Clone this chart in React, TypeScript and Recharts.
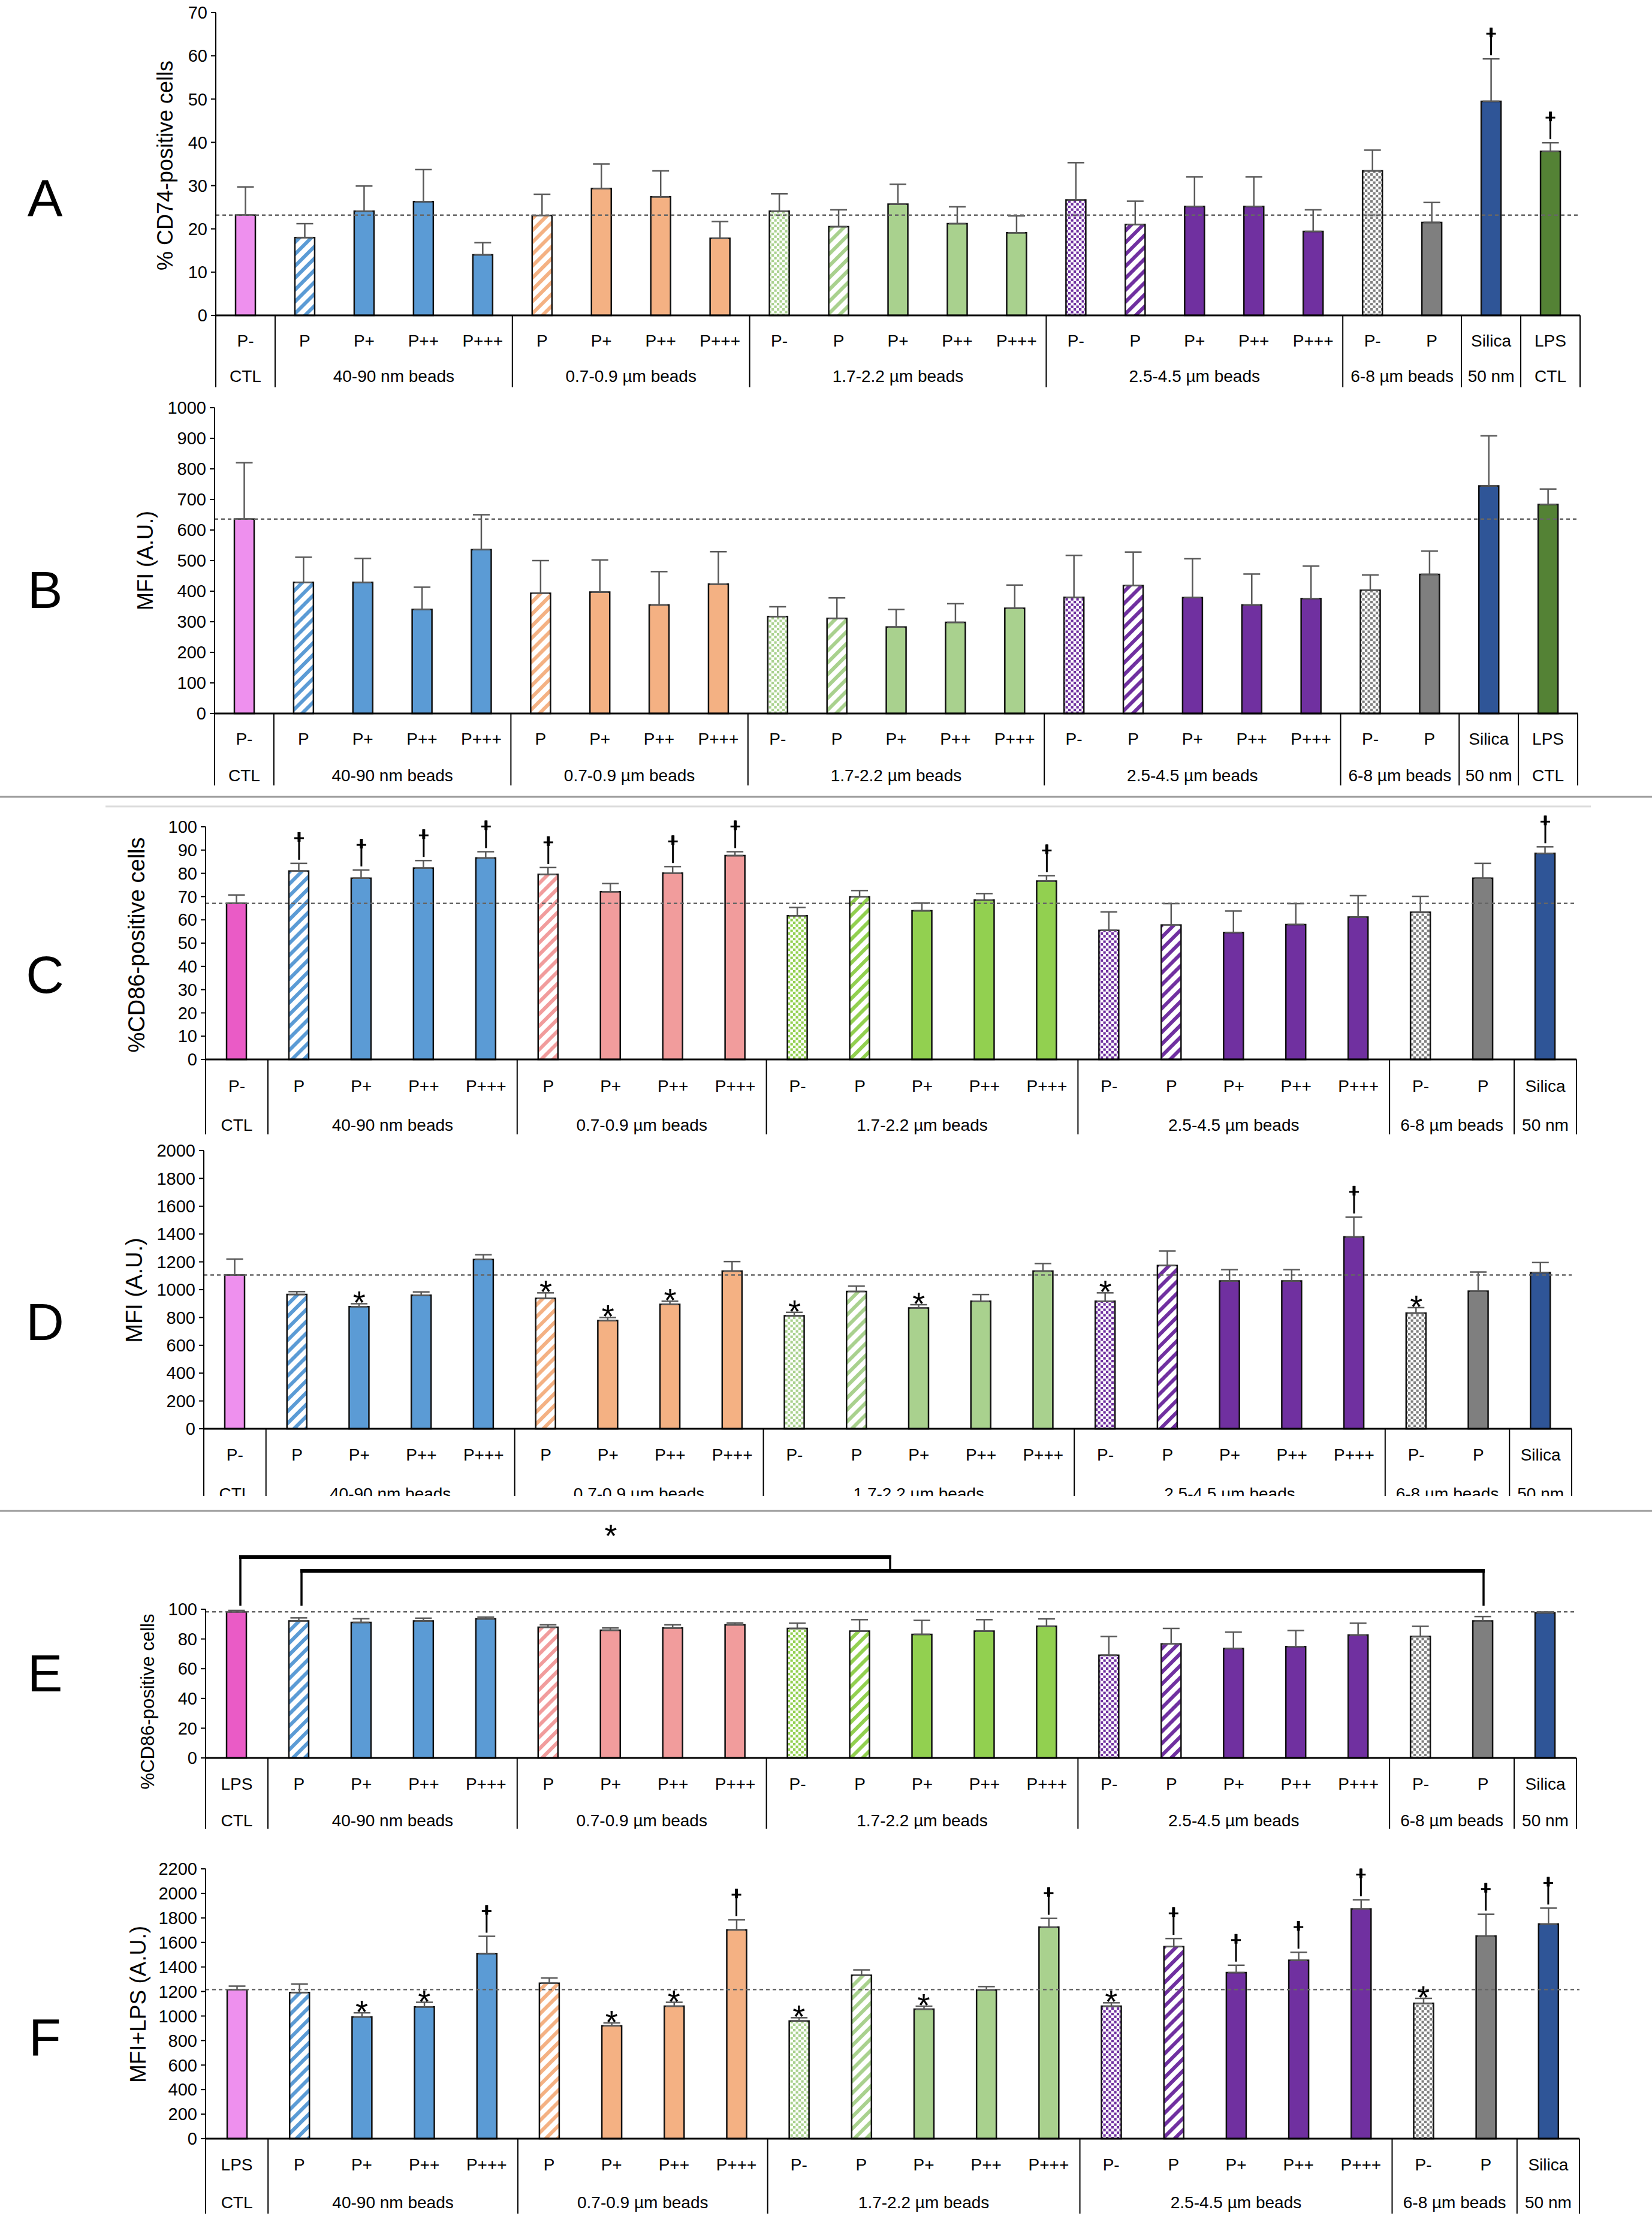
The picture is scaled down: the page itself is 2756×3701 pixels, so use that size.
import React from "react";
import { ComposedChart, Bar, Cell, ErrorBar, Line, XAxis, YAxis, ReferenceLine } from "recharts";

const PAGE_W = 2756;
const PAGE_H = 3701;

// ---- categories ----
const ticksAB = ["P-", "P", "P+", "P++", "P+++", "P", "P+", "P++", "P+++", "P-", "P", "P+", "P++", "P+++", "P-", "P", "P+", "P++", "P+++", "P-", "P", "Silica", "LPS"];
const ticksCD = ["P-", "P", "P+", "P++", "P+++", "P", "P+", "P++", "P+++", "P-", "P", "P+", "P++", "P+++", "P-", "P", "P+", "P++", "P+++", "P-", "P", "Silica"];
const ticksEF = ["LPS", "P", "P+", "P++", "P+++", "P", "P+", "P++", "P+++", "P-", "P", "P+", "P++", "P+++", "P-", "P", "P+", "P++", "P+++", "P-", "P", "Silica"];
const groupsAB = ["CTL", "40-90 nm beads", "0.7-0.9 µm beads", "1.7-2.2 µm beads", "2.5-4.5 µm beads", "6-8 µm beads", "50 nm", "CTL"];
const groupSizesAB = [1, 4, 4, 5, 5, 2, 1, 1];
const groupsCF = ["CTL", "40-90 nm beads", "0.7-0.9 µm beads", "1.7-2.2 µm beads", "2.5-4.5 µm beads", "6-8 µm beads", "50 nm"];
const groupSizesCF = [1, 4, 4, 5, 5, 2, 1];

// ---- A: % CD74-positive cells ----
const cd74Pct = [23.2, 18, 24.1, 26.3, 14, 23.1, 29.3, 27.4, 17.8, 24.1, 20.5, 25.7, 21.2, 19.1, 26.7, 21, 25.2, 25.2, 19.4, 33.4, 21.5, 49.5, 37.9];
const cd74PctSd = [6.5, 3.2, 5.8, 7.4, 2.8, 4.9, 5.7, 6, 3.9, 4, 3.9, 4.6, 3.9, 3.9, 8.6, 5.4, 6.8, 6.8, 5, 4.8, 4.6, 9.8, 2];
const cd74PctSig = ["", "", "", "", "", "", "", "", "", "", "", "", "", "", "", "", "", "", "", "", "", "†", "†"];

// ---- B: CD74 MFI ----
const cd74Mfi = [636, 429, 429, 340, 536, 393, 397, 355, 423, 317, 311, 283, 298, 344, 380, 418, 379, 355, 376, 403, 455, 744, 684];
const cd74MfiSd = [184, 82, 78, 73, 114, 107, 105, 109, 106, 32, 67, 57, 61, 76, 137, 110, 127, 101, 106, 50, 76, 164, 50];
const cd74MfiSig = ticksAB.map(() => "");

// ---- C: % CD86-positive cells ----
const cd86Pct = [67.1, 81, 77.9, 82.3, 86.6, 79.6, 72.1, 80.1, 87.6, 61.8, 69.9, 63.9, 68.5, 76.7, 55.5, 57.8, 54.6, 58, 61.2, 63.3, 77.9, 88.6];
const cd86PctSd = [3.6, 3.3, 3.5, 3.2, 2.7, 2.9, 3.5, 2.8, 1.7, 3.5, 2.7, 3.3, 2.8, 2.3, 7.9, 9.2, 9.2, 9, 9.2, 6.8, 6.4, 2.8];
const cd86PctSig = ["", "†", "†", "†", "†", "†", "", "†", "†", "", "", "", "", "†", "", "", "", "", "", "", "", "†"];

// ---- D: CD86 MFI ----
const cd86Mfi = [1106, 965, 878, 960, 1217, 938, 778, 894, 1134, 812, 987, 868, 917, 1134, 917, 1173, 1062, 1062, 1379, 832, 989, 1123];
const cd86MfiSd = [114, 21, 21, 24, 34, 39, 22, 23, 68, 25, 39, 24, 48, 54, 60, 105, 82, 82, 143, 39, 138, 72];
const cd86MfiSig = ["", "", "*", "", "", "*", "*", "*", "", "*", "", "*", "", "", "*", "", "", "", "†", "*", "", ""];

// ---- E: % CD86-positive cells + LPS ----
const cd86LpsPct = [98.3, 92.1, 91.1, 92.1, 93.5, 87.9, 85.9, 87.4, 89.5, 87.1, 85.3, 83.1, 85.3, 88.5, 69.1, 76.7, 73.6, 74.9, 82.7, 81.8, 92.1, 97.6];
const cd86LpsPctSd = [0.9, 2.1, 2.5, 1.9, 1.2, 1.6, 1.5, 2.1, 1.3, 3.5, 7.7, 9.4, 7.7, 5, 12.6, 10.4, 11, 10.8, 7.9, 6.7, 3, 0.6];
const cd86LpsPctSig = ticksEF.map(() => "");

// ---- F: CD86 MFI + LPS ----
const cd86LpsMfi = [1216, 1192, 992, 1074, 1510, 1268, 920, 1080, 1702, 960, 1332, 1056, 1212, 1724, 1080, 1566, 1354, 1454, 1874, 1104, 1652, 1750];
const cd86LpsMfiSd = [28, 68, 34, 38, 140, 42, 24, 32, 82, 26, 44, 24, 28, 72, 28, 66, 60, 66, 74, 40, 178, 130];
const cd86LpsMfiSig = ["", "", "*", "*", "†", "", "*", "*", "†", "*", "", "*", "", "†", "*", "†", "†", "†", "†", "*", "†", "†"];

// ---- styles ----
const rep = (c: string, n: number) => Array(n).fill(c);
const fillKinds = ["solid", "stripe", "solid", "solid", "solid", "stripe", "solid", "solid", "solid", "dot", "stripe", "solid", "solid", "solid", "dot", "stripe", "solid", "solid", "solid", "dot", "solid", "solid", "solid"];
const colorsLight = ["#EE90EE", ...rep("#5B9BD5", 4), ...rep("#F4B183", 4), ...rep("#A9D18E", 5), ...rep("#7030A0", 5), ...rep("#7F7F7F", 2), "#2F5597", "#548235"];
const colorsBright = ["#EA5BC6", ...rep("#5B9BD5", 4), ...rep("#F19C9C", 4), ...rep("#92D050", 5), ...rep("#7030A0", 5), ...rep("#7F7F7F", 2), "#2F5597"];

type Panel = {
  id: string;
  letter: string;
  yLabel: string;
  values: number[];
  sd: number[];
  sig: string[];
  ticks: string[];
  groups: string[];
  sizes: number[];
  colors: string[];
  yMax: number;
  yStep: number;
  // layout
  plotTop: number;
  zero: number;
  axisX: number;
  right: number;
  marginTop: number;
  tableH: number;
  row1: number;
  row2: number;
  clipBottom?: number;
  letterY: number;
  labelX: number;
  labelY: number;
  labelSize: number;
};

const panels: Panel[] = [
  { id: "A", letter: "A", yLabel: "% CD74-positive cells", values: cd74Pct, sd: cd74PctSd, sig: cd74PctSig, ticks: ticksAB, groups: groupsAB, sizes: groupSizesAB, colors: colorsLight, yMax: 70, yStep: 10,
    plotTop: 21, zero: 526, axisX: 360, right: 2636, marginTop: 20, tableH: 120, row1: 42, row2: 101, letterY: 330, labelX: 275, labelY: 276, labelSize: 36 },
  { id: "B", letter: "B", yLabel: "MFI (A.U.)", values: cd74Mfi, sd: cd74MfiSd, sig: cd74MfiSig, ticks: ticksAB, groups: groupsAB, sizes: groupSizesAB, colors: colorsLight, yMax: 1000, yStep: 100,
    plotTop: 680, zero: 1190, axisX: 358, right: 2632, marginTop: 20, tableH: 120, row1: 42, row2: 103, letterY: 983, labelX: 242, labelY: 935, labelSize: 36 },
  { id: "C", letter: "C", yLabel: "%CD86-positive cells", values: cd86Pct, sd: cd86PctSd, sig: cd86PctSig, ticks: ticksCD, groups: groupsCF, sizes: groupSizesCF, colors: colorsBright, yMax: 100, yStep: 10,
    plotTop: 1379, zero: 1767, axisX: 343, right: 2630, marginTop: 40, tableH: 125, row1: 44, row2: 109, letterY: 1625, labelX: 228, labelY: 1576, labelSize: 38 },
  { id: "D", letter: "D", yLabel: "MFI (A.U.)", values: cd86Mfi, sd: cd86MfiSd, sig: cd86MfiSig, ticks: ticksCD, groups: groupsCF, sizes: groupSizesCF, colors: colorsLight, yMax: 2000, yStep: 200,
    plotTop: 1919, zero: 2383, axisX: 340, right: 2622, marginTop: 20, tableH: 125, row1: 43, row2: 108, clipBottom: 2495, letterY: 2204, labelX: 224, labelY: 2152, labelSize: 38 },
  { id: "E", letter: "E", yLabel: "%CD86-positive cells", values: cd86LpsPct, sd: cd86LpsPctSd, sig: cd86LpsPctSig, ticks: ticksEF, groups: groupsCF, sizes: groupSizesCF, colors: colorsBright, yMax: 100, yStep: 20,
    plotTop: 2684, zero: 2932, axisX: 343, right: 2630, marginTop: 20, tableH: 118, row1: 43, row2: 104, letterY: 2790, labelX: 246, labelY: 2838, labelSize: 31 },
  { id: "F", letter: "F", yLabel: "MFI+LPS (A.U.)", values: cd86LpsMfi, sd: cd86LpsMfiSd, sig: cd86LpsMfiSig, ticks: ticksEF, groups: groupsCF, sizes: groupSizesCF, colors: colorsLight, yMax: 2200, yStep: 200,
    plotTop: 3117, zero: 3567, axisX: 343, right: 2635, marginTop: 30, tableH: 125, row1: 43, row2: 106, letterY: 3397, labelX: 230, labelY: 3343, labelSize: 37 },
];

const Y_AXIS_W = 100;

function TableTick(props: any) {
  const { x, y, index, p, band } = props;
  const starts: number[] = [];
  let acc = 0;
  p.sizes.forEach((s: number) => { starts.push(acc); acc += s; });
  const gi = starts.indexOf(index);
  const left = x - band / 2;
  return (
    <g>
      <text x={x} y={y + p.row1} textAnchor="middle" dominantBaseline="central" fontSize={28} fill="#000">
        {p.ticks[index]}
      </text>
      {gi >= 0 && <line x1={left} x2={left} y1={y} y2={y + p.tableH} stroke="#000" strokeWidth={2} />}
      {gi >= 0 && (
        <text x={left + (p.sizes[gi] * band) / 2} y={y + p.row2} textAnchor="middle" dominantBaseline="central" fontSize={28} fill="#000">
          {p.groups[gi]}
        </text>
      )}
      {index === p.ticks.length - 1 && (
        <line x1={x + band / 2} x2={x + band / 2} y1={y} y2={y + p.tableH} stroke="#000" strokeWidth={2} />
      )}
    </g>
  );
}

function SigMark(props: any) {
  const { cx, cy, payload, index } = props;
  const m = payload?.sig;
  if (!m || cx == null || cy == null) return <g key={`m${index}`} />;
  if (m === "†") {
    return (
      <g key={`m${index}`}>
        <line x1={cx} x2={cx} y1={cy - 6} y2={cy - 52} stroke="#000" strokeWidth={3} />
        <line x1={cx} x2={cx} y1={cy - 36} y2={cy - 52} stroke="#000" strokeWidth={5} />
        <line x1={cx - 8} x2={cx + 8} y1={cy - 42} y2={cy - 42} stroke="#000" strokeWidth={3} />
      </g>
    );
  }
  return (
    <text key={`m${index}`} x={cx} y={cy + 17} textAnchor="middle" fontSize={54} fill="#000">*</text>
  );
}

function BarPanel({ p }: { p: Panel }) {
  const n = p.values.length;
  const band = (p.right - p.axisX) / n;
  const data = p.values.map((v, i) => ({
    cat: `c${i}`,
    value: v,
    err: [0, p.sd[i]],
    top: v + p.sd[i],
    sig: p.sig[i],
  }));
  const yTicks: number[] = [];
  for (let t = 0; t <= p.yMax; t += p.yStep) yTicks.push(t);
  const chartTop = p.plotTop - p.marginTop;
  const height = p.marginTop + (p.zero - p.plotTop) + p.tableH;
  const boxH = p.clipBottom ? p.clipBottom - chartTop : height;

  return (
    <div style={{ position: "absolute", left: 0, top: chartTop, width: PAGE_W, height: boxH, overflow: "hidden" }}>
      <ComposedChart
        width={PAGE_W}
        height={height}
        data={data}
        margin={{ top: p.marginTop, right: PAGE_W - p.right, bottom: 0, left: p.axisX - Y_AXIS_W }}
      >
        <defs>
          {data.map((_, i) => {
            const kind = fillKinds[i];
            const c = p.colors[i];
            if (kind === "stripe") {
              return (
                <pattern key={i} id={`${p.id}-pat${i}`} patternUnits="userSpaceOnUse" width={14} height={14} patternTransform="rotate(45)">
                  <rect width={14} height={14} fill="#fff" />
                  <rect width={6} height={14} fill={c} />
                </pattern>
              );
            }
            if (kind === "dot") {
              return (
                <pattern key={i} id={`${p.id}-pat${i}`} patternUnits="userSpaceOnUse" width={9} height={9}>
                  <rect width={9} height={9} fill="#fff" />
                  <rect x={0} y={0} width={4.2} height={4.2} fill={c} />
                  <rect x={4.5} y={4.5} width={4.2} height={4.2} fill={c} />
                </pattern>
              );
            }
            return null;
          })}
        </defs>
        <XAxis
          dataKey="cat"
          interval={0}
          height={p.tableH}
          tickSize={0}
          tickMargin={0}
          tickLine={false}
          axisLine={{ stroke: "#000", strokeWidth: 3 }}
          tick={(tp: any) => <TableTick {...tp} p={p} band={band} />}
        />
        <YAxis
          width={Y_AXIS_W}
          domain={[0, p.yMax]}
          ticks={yTicks}
          interval={0}
          tickSize={8}
          tickMargin={6}
          tick={{ fontSize: 29, fill: "#000" }}
          tickLine={{ stroke: "#000", strokeWidth: 2 }}
          axisLine={{ stroke: "#000", strokeWidth: 2 }}
        />
        <Bar dataKey="value" barSize={33} stroke="#111" strokeWidth={2.5} isAnimationActive={false}>
          {data.map((_, i) => (
            <Cell key={i} fill={fillKinds[i] === "solid" ? p.colors[i] : `url(#${p.id}-pat${i})`} />
          ))}
          <ErrorBar dataKey="err" direction="y" width={14} stroke="#595959" strokeWidth={2.5} />
        </Bar>
        <ReferenceLine y={p.values[0]} stroke="#666" strokeWidth={2.5} strokeDasharray="6 5" />
        <Line dataKey="top" stroke="none" dot={SigMark} activeDot={false} legendType="none" isAnimationActive={false} />
      </ComposedChart>
    </div>
  );
}

export default function App() {
  return (
    <div
      style={{
        position: "absolute",
        left: 0,
        top: 0,
        width: PAGE_W,
        height: PAGE_H,
        background: "#fff",
        overflow: "hidden",
        fontFamily: "'Liberation Sans', Arial, sans-serif",
      }}
    >
      {panels.map((p) => (
        <BarPanel key={p.id} p={p} />
      ))}
      <svg width={PAGE_W} height={PAGE_H} style={{ position: "absolute", left: 0, top: 0, pointerEvents: "none" }}>
        {panels.map((p) => (
          <g key={p.id}>
            <text x={75} y={p.letterY + 31} textAnchor="middle" fontSize={88} fill="#000">{p.letter}</text>
            <text
              transform={`translate(${p.labelX},${p.labelY}) rotate(-90)`}
              textAnchor="middle"
              dominantBaseline="central"
              fontSize={p.labelSize}
              fill="#000"
            >
              {p.yLabel}
            </text>
          </g>
        ))}
        {/* panel separators */}
        <line x1={0} x2={PAGE_W} y1={1329} y2={1329} stroke="#9a9a9a" strokeWidth={3} />
        <line x1={176} x2={2654} y1={1345} y2={1345} stroke="#dcdcdc" strokeWidth={3} />
        <line x1={0} x2={PAGE_W} y1={2520} y2={2520} stroke="#9a9a9a" strokeWidth={3} />
        {/* significance bracket, panel E */}
        <line x1={399} x2={1487} y1={2597} y2={2597} stroke="#000" strokeWidth={6} />
        <line x1={501} x2={2477} y1={2620} y2={2620} stroke="#000" strokeWidth={6} />
        <line x1={401} x2={401} y1={2597} y2={2678} stroke="#000" strokeWidth={3.5} />
        <line x1={503} x2={503} y1={2620} y2={2678} stroke="#000" strokeWidth={3.5} />
        <line x1={2475} x2={2475} y1={2620} y2={2678} stroke="#000" strokeWidth={3.5} />
        <line x1={1485} x2={1485} y1={2597} y2={2620} stroke="#000" strokeWidth={3.5} />
        <text x={1019} y={2580} textAnchor="middle" fontSize={54} fill="#000">*</text>
      </svg>
    </div>
  );
}
